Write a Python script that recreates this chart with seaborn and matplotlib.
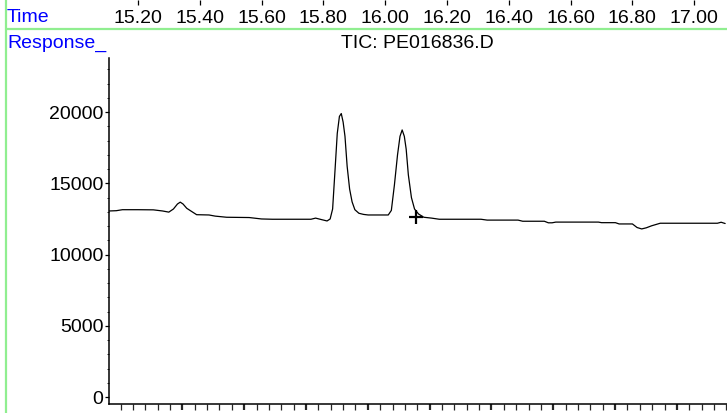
import numpy as np
import pandas as pd
import matplotlib
matplotlib.use("Agg")
import matplotlib.pyplot as plt
from matplotlib.lines import Line2D
from matplotlib.ticker import FixedLocator, AutoMinorLocator, NullFormatter
import seaborn as sns

# chromatogram trace (time in min, abundance)
times = [15.106, 15.130, 15.150, 15.200, 15.250, 15.280, 15.300, 15.315, 15.328, 15.337,
         15.346, 15.358, 15.370, 15.390, 15.430, 15.450, 15.487, 15.560, 15.600, 15.635,
         15.760, 15.775, 15.795, 15.812, 15.822, 15.830, 15.838, 15.845, 15.852, 15.858,
         15.864, 15.870, 15.877, 15.885, 15.893, 15.902, 15.915, 15.930, 15.945, 16.010,
         16.020, 16.030, 16.040, 16.048, 16.055, 16.062, 16.068, 16.075, 16.085, 16.095,
         16.108, 16.125, 16.150, 16.175, 16.310, 16.330, 16.430, 16.445, 16.515, 16.528,
         16.540, 16.552, 16.690, 16.700, 16.745, 16.757, 16.800, 16.815, 16.830, 16.845,
         16.862, 16.890, 17.075, 17.087, 17.100]
response = [13060, 13080, 13150, 13150, 13140, 13060, 12980, 13200, 13550, 13680,
            13550, 13250, 13080, 12800, 12780, 12700, 12620, 12600, 12500, 12480,
            12480, 12560, 12450, 12360, 12500, 13200, 16000, 18500, 19700, 19900,
            19300, 18300, 16200, 14600, 13700, 13150, 12900, 12820, 12780, 12780,
            13100, 14900, 17000, 18300, 18750, 18300, 17400, 15600, 14000, 13200,
            12850, 12620, 12560, 12480, 12480, 12420, 12420, 12340, 12340, 12230,
            12230, 12280, 12280, 12240, 12240, 12150, 12150, 11900, 11800, 11880,
            12020, 12200, 12200, 12270, 12180]

cross_time = [16.101]
cross_resp = [12620]

time_labels = ["15.20", "15.40", "15.60", "15.80", "16.00", "16.20",
               "16.40", "16.60", "16.80", "17.00"]
y_ticks = [0, 5000, 10000, 15000, 20000]

title = "TIC: PE016836.D"

df = pd.DataFrame({"Time": times, "Response": response})

sns.set_style("ticks")
plt.rcParams["font.family"] = ["Liberation Sans", "DejaVu Sans"]

W, H = 727, 413
fig = plt.figure(figsize=(W / 100, H / 100), dpi=100)
fig.patch.set_facecolor("white")

x0 = 109 / W
xlim = (15.1065, 17.106)

# main plot
ax = fig.add_axes([x0, 9 / H, 1 - x0, (404 - 58) / H])
sns.lineplot(data=df, x="Time", y="Response", ax=ax, color="black",
             linewidth=0.9, estimator=None, sort=False)
sns.scatterplot(x=cross_time, y=cross_resp, ax=ax, marker="+", s=90,
                color="black", linewidth=1.6, zorder=5)
ax.set_xlim(*xlim)
ax.set_ylim(-490, 23800)
ax.set_xlabel("")
ax.set_ylabel("")
for s in ["top", "right"]:
    ax.spines[s].set_visible(False)
for s in ["left", "bottom"]:
    ax.spines[s].set_linewidth(1.1)
    ax.spines[s].set_color("black")

ax.set_yticks(y_ticks)
ax.set_yticklabels([str(v) for v in y_ticks])
ax.yaxis.set_minor_locator(AutoMinorLocator(5))
ax.tick_params(axis="y", which="major", length=3, width=0.9, pad=1,
               labelsize=14, colors="black")
ax.tick_params(axis="y", which="minor", length=1.8, width=0.7)

# bottom ticks (no labels), grid offset from the time header as in the original
bottom_minor = np.arange(15.144, 17.11, 0.04)
bottom_major = np.arange(15.344, 17.11, 0.2)
ax.xaxis.set_major_locator(FixedLocator(bottom_major))
ax.xaxis.set_minor_locator(FixedLocator(bottom_minor))
ax.xaxis.set_major_formatter(NullFormatter())
ax.tick_params(axis="x", which="major", length=4.6, width=1.6, direction="out")
ax.tick_params(axis="x", which="minor", length=4.6, width=0.9, direction="out")

# time header
axh = fig.add_axes([x0, 1 - 6 / H, 1 - x0, 6 / H])
axh.set_xlim(*xlim)
axh.set_ylim(0, 1)
axh.set_yticks([])
for s in axh.spines.values():
    s.set_visible(False)
axh.set_facecolor("none")
axh.set_xticks([float(t) for t in time_labels])
axh.set_xticklabels(time_labels)
axh.tick_params(axis="x", which="major", top=True, bottom=False, labeltop=False,
                labelbottom=True, direction="in", length=3.5, width=0.9,
                pad=2.8, labelsize=14, colors="black")

# green frame lines
green = "#90ee90"
fig.add_artist(Line2D([6 / W, 6 / W], [0, 1], transform=fig.transFigure,
                      color=green, lw=1.6))
fig.add_artist(Line2D([6 / W, 1], [1 - 29 / H, 1 - 29 / H],
                      transform=fig.transFigure, color=green, lw=1.6))

fig.text(7 / W, 1 - 17 / H, "Time", color="blue", fontsize=14,
         ha="left", va="center")
fig.text(7 / W, 1 - 43 / H, "Response_", color="blue", fontsize=14,
         ha="left", va="center")
fig.text(417 / W, 1 - 43 / H, title, color="black", fontsize=14,
         ha="center", va="center")

fig.savefig("out.png", dpi=100)
